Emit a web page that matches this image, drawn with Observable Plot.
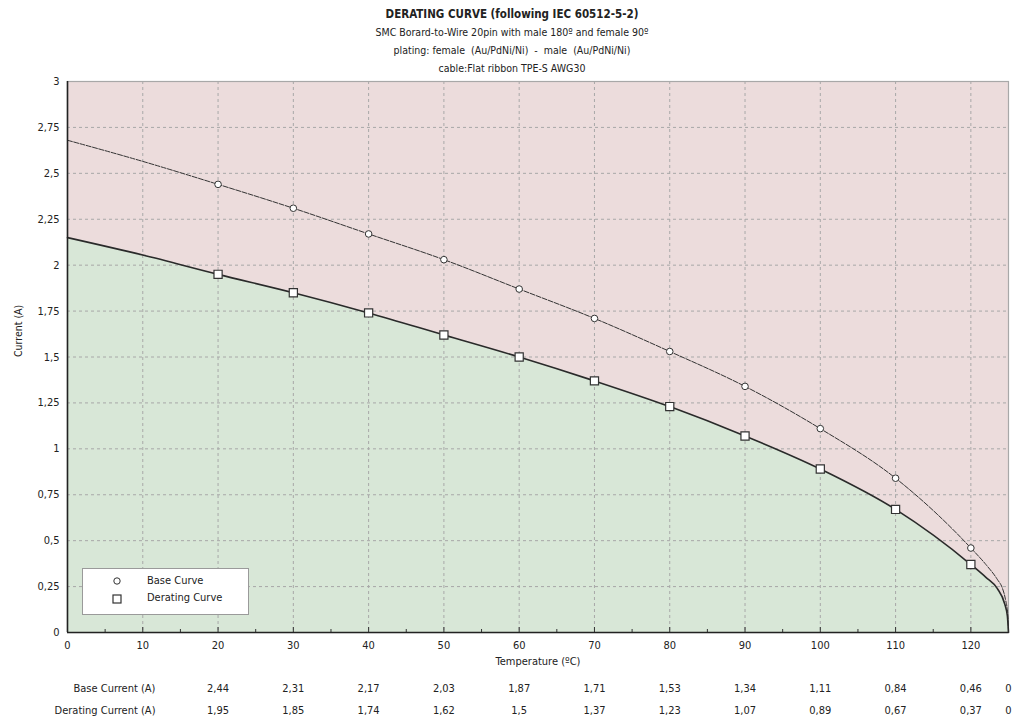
<!DOCTYPE html>
<html>
<head>
<meta charset="utf-8">
<script src="https://cdn.jsdelivr.net/npm/d3@7"></script>
<script src="https://cdn.jsdelivr.net/npm/@observablehq/plot@0.6"></script>
<style>
  html, body { margin: 0; padding: 0; background: #fff; }
  #wrap { position: relative; width: 1014px; height: 723px; font-family: "DejaVu Sans Condensed", "DejaVu Sans", sans-serif; color: #222; }
  #titles { position: absolute; left: 0; top: 5px; width: 1024px; text-align: center; font-size: 10.5px; line-height: 18px; }
  #titles .t1 { font-weight: bold; font-size: 11.5px; }
  #legend { position: absolute; left: 82px; top: 568px; width: 167px; height: 47px; background: #fff; border: 1px solid #9a9a9a; box-sizing: border-box; font-size: 11px; }
  #legend .row { position: absolute; left: 64px; }
  #legend svg { position: absolute; left: 28px; }
</style>
</head>
<body>
<div id="wrap">
  <div id="chart"></div>
  <div id="titles">
    <div class="t1">DERATING CURVE (following IEC 60512-5-2)</div>
    <div>SMC Borard-to-Wire 20pin with male 180º and female 90º</div>
    <div>plating: female&nbsp; (Au/PdNi/Ni)&nbsp; -&nbsp; male&nbsp; (Au/PdNi/Ni)</div>
    <div>cable:Flat ribbon TPE-S AWG30</div>
  </div>
  <div id="legend">
    <svg width="12" height="40" style="top:4px">
      <circle cx="6" cy="8" r="3.2" fill="#fff" stroke="#333" stroke-width="1"></circle>
      <rect x="2" y="22" width="8" height="8" fill="#fff" stroke="#333" stroke-width="1.2"></rect>
    </svg>
    <div class="row" style="top:5px">Base Curve</div>
    <div class="row" style="top:22px">Derating Curve</div>
  </div>
</div>
<script>
// Table values
const tableTemps = [20, 30, 40, 50, 60, 70, 80, 90, 100, 110, 120, 125];
const baseCurrent = [2.44, 2.31, 2.17, 2.03, 1.87, 1.71, 1.53, 1.34, 1.11, 0.84, 0.46, 0];
const deratingCurrent = [1.95, 1.85, 1.74, 1.62, 1.5, 1.37, 1.23, 1.07, 0.89, 0.67, 0.37, 0];
// Extra curve points (outside the marked points)
const baseExtraTemps = [0, 10, 122, 123.5, 124.2, 124.6, 124.9];
const baseExtraValues = [2.68, 2.565, 0.37, 0.29, 0.24, 0.18, 0.1];
const deratingExtraTemps = [0, 10, 122, 123.5, 124.5, 124.85];
const deratingExtraValues = [2.15, 2.055, 0.3, 0.24, 0.155, 0.09];
const xTicks = [0, 10, 20, 30, 40, 50, 60, 70, 80, 90, 100, 110, 120];
const xMinorTicks = [5, 15, 25, 35, 45, 55, 65, 75, 85, 95, 105, 115, 125];
const yTicks = [0, 0.25, 0.5, 0.75, 1, 1.25, 1.5, 1.75, 2, 2.25, 2.5, 2.75, 3];
const rowLabels = ["Base Current (A)", "Derating Current (A)"];

const comma = d => String(d).replace(".", ",");

const baseLine = tableTemps.map((t, i) => ({t, v: baseCurrent[i]}))
  .concat(baseExtraTemps.map((t, i) => ({t, v: baseExtraValues[i]})))
  .sort((a, b) => a.t - b.t);
const derLine = tableTemps.map((t, i) => ({t, v: deratingCurrent[i]}))
  .concat(deratingExtraTemps.map((t, i) => ({t, v: deratingExtraValues[i]})))
  .sort((a, b) => a.t - b.t);
const basePts = tableTemps.slice(0, -1).map((t, i) => ({t, v: baseCurrent[i]}));
const derPts = tableTemps.slice(0, -1).map((t, i) => ({t, v: deratingCurrent[i]}));
const table = tableTemps.map((t, i) => ({t, b: baseCurrent[i], d: deratingCurrent[i]}));

const font = "DejaVu Sans Condensed, DejaVu Sans, sans-serif";
const curve = "monotone-x";

const chart = Plot.plot({
  width: 1014,
  height: 723,
  marginTop: 81,
  marginLeft: 67,
  marginRight: 6,
  marginBottom: 91,
  style: {fontFamily: font, fontSize: "11px", color: "#222", background: "transparent", overflow: "visible"},
  x: {domain: [0, 125]},
  y: {domain: [0, 3]},
  marks: [
    Plot.frame({fill: "#ecdcdc", stroke: "#a8a8a8", strokeWidth: 1.2}),
    Plot.areaY(derLine, {x: "t", y: "v", curve, fill: "#d8e7d7"}),
    Plot.gridX(xTicks.slice(1), {stroke: "#a8a8a8", strokeOpacity: 1, strokeDasharray: "3,3"}),
    Plot.gridY(yTicks.slice(1, -1), {stroke: "#a8a8a8", strokeOpacity: 1, strokeDasharray: "3,3"}),
    Plot.ruleX(xTicks, {x: d => d, y1: 0, y2: 0, insetTop: -5, stroke: "#333"}),
    Plot.ruleX(xMinorTicks, {x: d => d, y1: 0, y2: 0, insetTop: -3, stroke: "#333"}),
    Plot.line(baseLine, {x: "t", y: "v", curve, stroke: "#333", strokeWidth: 1, strokeDasharray: "5,1.5"}),
    Plot.line(derLine, {x: "t", y: "v", curve, stroke: "#2a2a2a", strokeWidth: 1.6}),
    Plot.dot(basePts, {x: "t", y: "v", r: 3.3, fill: "#fff", stroke: "#333", strokeWidth: 1}),
    Plot.dot(derPts, {x: "t", y: "v", symbol: "square", r: 4.6, fill: "#fff", stroke: "#333", strokeWidth: 1.2}),
    Plot.ruleY([0], {stroke: "#222", strokeWidth: 1.6}),
    Plot.ruleX([0], {stroke: "#222", strokeWidth: 1.6}),
    Plot.axisX(xTicks, {tickSize: 0, tickPadding: 9, label: null, fontSize: 11, fill: "#222"}),
    Plot.axisY(yTicks, {tickSize: 0, tickPadding: 8, label: null, tickFormat: comma, fontSize: 11, fill: "#222"}),
    Plot.text(["Temperature (ºC)"], {frameAnchor: "bottom", dy: 32, fontSize: 11, fill: "#222"}),
    Plot.text(["Current (A)"], {frameAnchor: "left", dx: -49, rotate: -90, fontSize: 10.5, fill: "#222"}),
    Plot.text(table, {x: "t", text: d => comma(d.b), frameAnchor: "bottom", dy: 59, fontSize: 11, fill: "#222"}),
    Plot.text(table, {x: "t", text: d => comma(d.d), frameAnchor: "bottom", dy: 81, fontSize: 11, fill: "#222"}),
    Plot.text([rowLabels[0]], {frameAnchor: "bottom-left", dx: 88, dy: 59, textAnchor: "end", fontSize: 11, fill: "#222"}),
    Plot.text([rowLabels[1]], {frameAnchor: "bottom-left", dx: 88, dy: 81, textAnchor: "end", fontSize: 11, fill: "#222"})
  ]
});
document.getElementById("chart").appendChild(chart);
</script>
</body>
</html>
